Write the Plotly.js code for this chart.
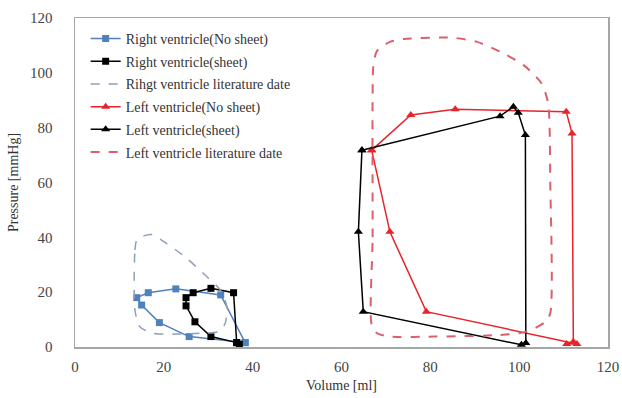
<!DOCTYPE html>
<html><head><meta charset="utf-8">
<script src="https://cdn.plot.ly/plotly-3.0.1.min.js"></script>
<style>body{margin:0;background:#fff}#c{width:622px;height:398px}</style>
</head><body><div id="c"></div>
<script>
// Right ventricle (No sheet)
const rvNoX = [38.3, 32.8, 22.7, 16.5, 13.9, 15.0, 19.0, 25.7, 38.3];
const rvNoY = [1.6, 19.0, 21.2, 19.8, 18.0, 15.3, 8.9, 3.8, 1.6];
// Right ventricle (sheet)
const rvShX = [36.4, 35.7, 30.6, 26.6, 25.0, 25.0, 27.0, 30.6, 36.4, 37.0];
const rvShY = [1.6, 19.8, 21.4, 19.8, 18.0, 15.0, 9.2, 3.8, 1.6, 1.0];
// Right ventricle literature
const rvLitX = [13.5, 13.5, 13.9, 15.4, 17.3, 20.6, 25.2, 29.7, 32.7, 34.2, 33.8, 32.3, 28.2, 17.6, 14.6, 13.5];
const rvLitY = [13.5, 35.4, 39.0, 40.5, 41.0, 37.8, 32.3, 25.6, 20.8, 14.7, 8.6, 5.6, 5.0, 5.0, 7.4, 13.5];
// Left ventricle (No sheet)
const lvNoX = [66.8, 75.6, 85.6, 110.6, 111.9, 112.2, 110.7, 113.0, 79.1, 70.9, 66.8];
const lvNoY = [71.8, 84.6, 86.7, 85.8, 77.9, 1.9, 1.1, 1.1, 12.9, 42.0, 71.8];
// Left ventricle (sheet)
const lvShX = [64.6, 95.7, 98.7, 99.8, 101.4, 101.5, 100.5, 64.9, 63.8, 64.6];
const lvShY = [71.8, 84.2, 87.6, 85.4, 77.3, 1.5, 0.8, 12.9, 42.0, 71.8];
// Left ventricle literature
const lvLitX = [66.8, 67.0, 67.0, 67.2, 68.0, 70.9, 74.0, 85.0, 90.5, 95.7, 101.0, 105.0, 106.5, 107.0, 107.0, 105.9, 101.7, 95.7, 80.7, 70.9, 68.0, 66.8];
const lvLitY = [8.0, 40.0, 90.0, 103.0, 108.0, 111.3, 112.3, 112.8, 111.3, 107.7, 102.8, 96.2, 89.0, 60.0, 12.3, 9.2, 5.6, 4.4, 3.8, 3.8, 5.0, 8.0];

const names = ['Right ventricle(No sheet)', 'Right ventricle(sheet)', 'Rihgt ventricle literature date',
               'Left ventricle(No sheet)', 'Left ventricle(sheet)', 'Left ventricle literature date'];

const blue = '#4f81bd', red = '#e8232b', rvLitC = '#8ea0b8', lvLitC = '#d9606c';
const traces = [
  {x: rvNoX, y: rvNoY, name: names[0], mode: 'lines+markers', line: {color: blue, width: 1.5}, marker: {symbol: 'square', size: 7, color: blue}},
  {x: rvShX, y: rvShY, name: names[1], mode: 'lines+markers', line: {color: '#000', width: 1.5}, marker: {symbol: 'square', size: 7, color: '#000'}},
  {x: rvLitX, y: rvLitY, name: names[2], mode: 'lines', line: {color: rvLitC, width: 1.5, dash: 'dash', shape: 'spline', smoothing: 0.7}},
  {x: lvNoX, y: lvNoY, name: names[3], mode: 'lines+markers', line: {color: red, width: 1.5}, marker: {symbol: 'triangle-up', size: 8, color: red}},
  {x: lvShX, y: lvShY, name: names[4], mode: 'lines+markers', line: {color: '#000', width: 1.5}, marker: {symbol: 'triangle-up', size: 8, color: '#000'}},
  {x: lvLitX, y: lvLitY, name: names[5], mode: 'lines', line: {color: lvLitC, width: 2, dash: 'dash', shape: 'spline', smoothing: 0.7}}
];
traces.forEach((t, i) => { t.legendgroup = 'g' + i; t.cliponaxis = false; });

const font = {family: '"Liberation Serif", "Times New Roman", serif', size: 14, color: '#333'};
const layout = {
  width: 622, height: 398,
  margin: {l: 75, r: 14, t: 18, b: 51},
  paper_bgcolor: '#fff', plot_bgcolor: '#fff',
  font: font,
  showlegend: true,
  legend: {x: 0.02, y: 0.985, xanchor: 'left', yanchor: 'top', bgcolor: 'rgba(0,0,0,0)',
           font: {family: font.family, size: 14, color: '#333'}, tracegroupgap: 1.5, itemwidth: 30},
  xaxis: {range: [0, 120], dtick: 20, showgrid: false, zeroline: false, showline: true, mirror: true,
          linecolor: '#a6a6a6', linewidth: 1.5, ticks: '', tickfont: {size: 15, color: '#444'}, ticklabelstandoff: 5,
          title: {text: 'Volume [ml]', font: {size: 14, color: '#333'}, standoff: 6}},
  yaxis: {range: [0, 120], dtick: 20, showgrid: false, zeroline: false, showline: true, mirror: true,
          linecolor: '#a6a6a6', linewidth: 1.5, ticks: '', tickfont: {size: 15, color: '#444'}, ticklabelstandoff: 18,
          title: {text: 'Pressure [mmHg]', font: {size: 14, color: '#333'}, standoff: 8}}
};
Plotly.newPlot('c', traces, layout, {displayModeBar: false, staticPlot: true});
</script></body></html>
